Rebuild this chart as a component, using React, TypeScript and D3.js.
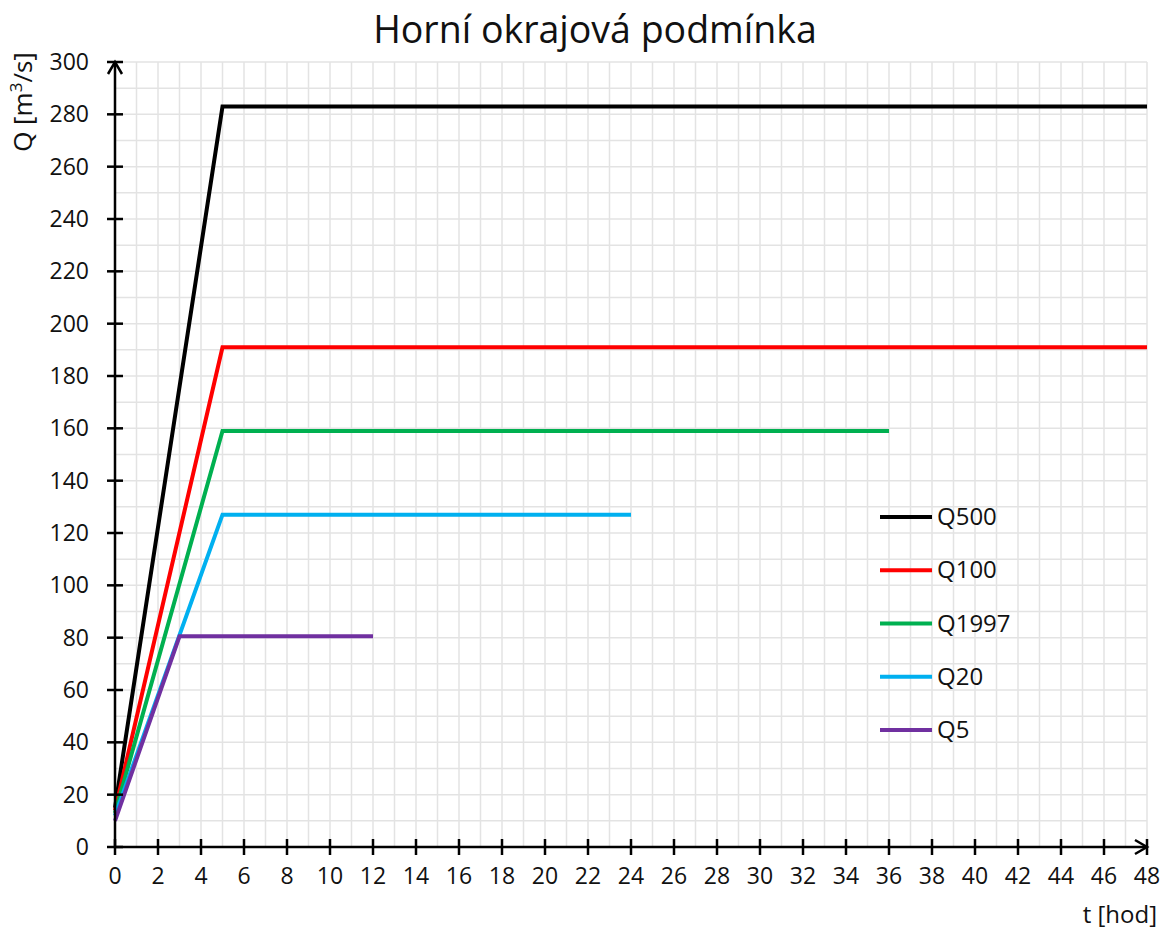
import React from "react";
import * as d3 from "d3";

const seriesNames = ["Q500", "Q100", "Q1997", "Q20", "Q5"];
const seriesColors = ["#000000", "#ff0000", "#00b050", "#00b0f0", "#7030a0"];
const q500 = [ [0, 15], [5, 283], [48, 283] ];
const q100 = [ [0, 14], [5, 191], [48, 191] ];
const q1997 = [ [0, 13], [5, 159], [36, 159] ];
const q20 = [ [0, 12], [5, 127], [24, 127] ];
const q5 = [ [0, 10], [3, 80.5], [12, 80.5] ];
const xTicks = d3.range(0, 49, 2);
const yTicks = d3.range(0, 301, 20);

export default function App() {
  const W = 1163, H = 929;
  const x = d3.scaleLinear().domain([0, 48]).range([115, 1147]);
  const y = d3.scaleLinear().domain([0, 300]).range([847, 62]);
  const data = [q500, q100, q1997, q20, q5];
  const line = d3.line<number[]>().x(d => x(d[0])).y(d => y(d[1]));
  const font = "'Open Sans', 'Noto Sans', sans-serif";
  const xMinor = d3.range(1, 49, 1);
  const yMinor = d3.range(10, 301, 10);
  const legY = d3.scaleLinear().domain([0, 4]).range([517, 730]);
  const fs = 23;
  const fs2 = 24;
  return (
    <svg width={W} height={H} style={{ position: "absolute", left: 0, top: 0, background: "#fff" }} fontFamily={font}>
      <rect width={W} height={H} fill="#fff" />
      <g stroke="#e3e3e3" strokeWidth={1.5}>
        {xMinor.map(t => <line key={"gx" + t} x1={x(t)} x2={x(t)} y1={y(0)} y2={y(300)} />)}
        {yMinor.map(v => <line key={"gy" + v} x1={x(0)} x2={x(48)} y1={y(v)} y2={y(v)} />)}
      </g>
      <text x={595} y={43} fontSize={37.5} textAnchor="middle" fill="#111">Horní okrajová podmínka</text>
      {data.map((d, i) => (
        <path key={i} d={line(d as any) || ""} fill="none" stroke={seriesColors[i]} strokeWidth={4} strokeLinejoin="miter" />
      ))}
      <g stroke="#000" strokeWidth={2.5}>
        <line x1={x(0)} x2={x(48)} y1={y(0)} y2={y(0)} />
        <line x1={x(0)} x2={x(0)} y1={y(0)} y2={y(300)} />
        {xTicks.map(t => <line key={"xt" + t} x1={x(t)} x2={x(t)} y1={y(0) - 8} y2={y(0) + 8} />)}
        {yTicks.map(v => <line key={"yt" + v} x1={x(0) - 8} x2={x(0) + 8} y1={y(v)} y2={y(v)} />)}
        <polyline fill="none" points={`${x(48) - 12},${y(0) - 7} ${x(48)},${y(0)} ${x(48) - 12},${y(0) + 7}`} />
        <polyline fill="none" points={`${x(0) - 7},${y(300) + 12} ${x(0)},${y(300)} ${x(0) + 7},${y(300) + 12}`} />
      </g>
      {xTicks.map(t => <text key={"xl" + t} x={x(t)} y={y(0) + 37} fontSize={fs} fill="#111" textAnchor="middle">{t}</text>)}
      {yTicks.map(v => <text key={"yl" + v} x={89} y={y(v) + 8} fontSize={fs} fill="#111" textAnchor="end">{v}</text>)}
      <text x={1157} y={923} fontSize={fs2} fill="#111" textAnchor="end">t [hod]</text>
      <text transform={`translate(32,102) rotate(-90)`} fontSize={26} fill="#111" textAnchor="middle">Q [m<tspan dy={-10} fontSize={17}>3</tspan><tspan dy={10}>/s]</tspan></text>
      {seriesNames.map((n, i) => (
        <g key={n}>
          <line x1={880} x2={932} y1={legY(i)} y2={legY(i)} stroke={seriesColors[i]} strokeWidth={4} />
          <text x={937} y={legY(i) + 8} fontSize={fs2} fill="#111">{n}</text>
        </g>
      ))}
    </svg>
  );
}
